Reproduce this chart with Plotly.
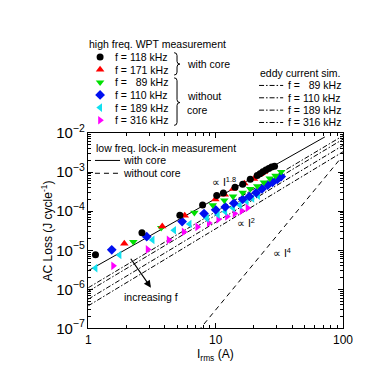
import plotly.graph_objects as go

W, H = 374, 375

# ---------------- data ----------------
# high freq. WPT measurement, with core
I_118 = [1.14, 2.64, 5.24, 7.9, 10.2, 11.5, 14.2, 16.3, 18.7, 21.2, 22.3, 23.5, 24.8, 26.1, 27.5, 29.0]
L_118 = [7.7e-6, 2.8e-5, 7.9e-5, 1.43e-4, 2.5e-4, 2.9e-4, 4.1e-4, 4.9e-4, 6.5e-4, 8.1e-4, 9.0e-4,
         1.01e-3, 1.13e-3, 1.23e-3, 1.34e-3, 1.41e-3]
I_171 = [1.92, 3.81, 5.72, 9.95, 11.8, 13.7, 16.8, 20.0, 22.4, 23.9]
L_171 = [1.48e-5, 4.1e-5, 7.7e-5, 2.0e-4, 2.64e-4, 3.7e-4, 5.1e-4, 6.7e-4, 8.9e-4, 1.01e-3]
# high freq. WPT measurement, without core
I_89 = [2.26, 3.74, 6.81, 9.49, 11.7, 13.7, 16.3, 18.7, 21.2, 23.9, 26.6, 29.5, 32.7]
L_89 = [1.64e-5, 3.74e-5, 9.1e-5, 1.43e-4, 1.89e-4, 2.37e-4, 2.96e-4, 3.7e-4, 4.37e-4, 5.47e-4,
        6.84e-4, 8.09e-4, 1.01e-3]
I_110 = [1.53, 2.88, 5.46, 8.11, 10.0, 11.9, 13.9, 16.3, 18.4, 20.8, 23.1, 25.6, 28.0, 30.5, 32.7]
L_110 = [1.03e-5, 2.22e-5, 5.4e-5, 8.65e-5, 1.08e-4, 1.28e-4, 1.6e-4, 2.0e-4, 2.37e-4, 2.96e-4,
         3.7e-4, 4.62e-4, 5.47e-4, 6.47e-4, 7.64e-4]
I_189 = [1.14, 1.76, 3.2, 4.72, 6.24, 8.55, 10.4, 11.9, 13.7, 15.5, 17.5, 19.4, 21.5]
L_189 = [3.5e-6, 7.6e-6, 1.84e-5, 3.24e-5, 4.68e-5, 6.54e-5, 8.18e-5, 9.67e-5, 1.21e-4, 1.43e-4,
         1.79e-4, 2.11e-4, 2.5e-4]
I_316 = [1.57, 2.93, 4.28, 5.62, 7.18, 8.85, 10.5, 12.3, 14.1, 16.0, 17.8]
L_316 = [4.0e-6, 1.05e-5, 1.84e-5, 2.95e-5, 3.95e-5, 4.95e-5, 6.18e-5, 7.31e-5, 8.65e-5, 1.02e-4, 1.21e-4]

# low freq. lock-in measurement
I_lock_core = [1.0, 72.0]
L_lock_core = [3.0e-6, 7.9e-3]
I_lock_nocore = [7.3, 96.0]
L_lock_nocore = [8.6e-8, 2.25e-3]

# eddy current simulation
I_sim = [1.0, 100.0]
L_sim_89 = [1.1e-6, 8.5e-3]
L_sim_110 = [8.9e-7, 6.9e-3]
L_sim_189 = [5.6e-7, 4.8e-3]
L_sim_316 = [3.8e-7, 3.3e-3]

# ---------------- styling ----------------
FONT = "Arial, Liberation Sans, sans-serif"
GREEN = "#00E000"
CYAN = "#10E0F0"
BLUE = "#0010F0"
RED = "#FF0000"
MAG = "#FF00FF"
DASHDOT = "5px,2px,1.5px,2px"
DASH = "5px,4px"
FS = 10.5

# plot frame in pixels
PX0, PX1, PY0, PY1 = 80, 344, 120, 326

fig = go.Figure()

def sc(x, y, sym, color, size):
    fig.add_trace(go.Scatter(x=x, y=y, mode="markers", xaxis="x", yaxis="y",
                             marker=dict(symbol=sym, color=color, size=size, line=dict(width=0))))

def ln(x, y, dash, width=1):
    fig.add_trace(go.Scatter(x=x, y=y, mode="lines", xaxis="x", yaxis="y",
                             line=dict(color="black", width=width, dash=dash)))

ln(I_sim, L_sim_89, DASHDOT)
ln(I_sim, L_sim_110, DASHDOT)
ln(I_sim, L_sim_189, DASHDOT)
ln(I_sim, L_sim_316, DASHDOT)
ln(I_lock_core, L_lock_core, "solid")
ln(I_lock_nocore, L_lock_nocore, DASH)

sc(I_316, L_316, "triangle-right", MAG, 7.5)
sc(I_189, L_189, "triangle-left", CYAN, 7.5)
sc(I_110, L_110, "diamond", BLUE, 7.5)
sc(I_89, L_89, "triangle-down", GREEN, 7.5)
sc(I_171, L_171, "triangle-up", RED, 7.5)
sc(I_118, L_118, "circle", "black", 7)

# ---------------- legend & annotations (pixel overlay axes) ----------------
ann = []
shapes = []

def txt(x, y, s, size=FS, xanchor="left", **kw):
    ann.append(dict(x=x, y=y, xref="x2", yref="y2", text=s, showarrow=False,
                    xanchor=xanchor, yanchor="middle", font=dict(family=FONT, size=size, color="black"), **kw))

# high freq legend
txt(79, 26, "high freq. WPT measurement")
rows = [40, 53.3, 66.7, 80, 93.3, 106.7]
leg = [("circle", "black", 7, "f = 118 kHz"),
       ("triangle-up", RED, 7.5, "f = 171 kHz"),
       ("triangle-down", GREEN, 7.5, "f = \u00a0\u00a089 kHz"),
       ("diamond", BLUE, 7.5, "f = 110 kHz"),
       ("triangle-left", CYAN, 7.5, "f = 189 kHz"),
       ("triangle-right", MAG, 7.5, "f = 316 kHz")]
for (sym, col, sz, label), yy in zip(leg, rows):
    fig.add_trace(go.Scatter(x=[92.3], y=[yy], mode="markers", xaxis="x2", yaxis="y2", cliponaxis=False,
                             marker=dict(symbol=sym, color=col, size=sz, line=dict(width=0))))
    txt(105.5, yy, label)

def brace(x0, y0, y1, ym, w):
    h = w / 2
    r = 3
    return (f"M {x0},{y0} Q {x0+h},{y0} {x0+h},{y0+r} L {x0+h},{ym-r} Q {x0+h},{ym} {x0+w},{ym} "
            f"Q {x0+h},{ym} {x0+h},{ym+r} L {x0+h},{y1-r} Q {x0+h},{y1} {x0},{y1}")

shapes.append(dict(type="path", path=brace(169, 35.5, 59, 47.5, 6), xref="x2", yref="y2",
                   line=dict(color="black", width=1)))
shapes.append(dict(type="path", path=brace(169, 62, 112, 88, 6), xref="x2", yref="y2",
                   line=dict(color="black", width=1)))
txt(180, 47.5, "with core")
txt(180, 81.5, "without")
txt(180, 95.5, "core")

# eddy current sim legend
txt(256, 57, "eddy current sim.")
erows = [70, 83, 96, 109]
elab = ["f = \u00a0\u00a089 kHz", "f = 110 kHz", "f = 189 kHz", "f = 316 kHz"]
for yy, lab in zip(erows, elab):
    shapes.append(dict(type="line", x0=257, x1=282, y0=yy, y1=yy, xref="x2", yref="y2",
                       line=dict(color="black", width=1, dash=DASHDOT)))
    txt(284.5, yy, lab)

# low freq legend inside plot
txt(86, 135.5, "low freq. lock-in measurement")
shapes.append(dict(type="line", x0=87, x1=113, y0=149, y1=149, xref="x2", yref="y2",
                   line=dict(color="black", width=1)))
txt(114, 149, "with core")
shapes.append(dict(type="line", x0=87, x1=113, y0=162.5, y1=162.5, xref="x2", yref="y2",
                   line=dict(color="black", width=1, dash=DASH)))
txt(114, 162.5, "without core")

# slope labels
txt(221, 171, "\u221d I<sup>1.8</sup>", xanchor="center")
txt(243, 214, "\u221d I<sup>2</sup>", xanchor="center")
txt(281, 246, "\u221d I<sup>4</sup>", xanchor="center")
txt(145, 293, "increasing f", xanchor="center")
ann.append(dict(x=145, y=283, ax=123, ay=251, xref="x2", yref="y2", axref="x2", ayref="y2",
                text="", showarrow=True, arrowhead=2, arrowsize=1.2, arrowwidth=1.2, arrowcolor="black"))

# axis titles
ann.append(dict(x=37, y=(PY0 + PY1) / 2, xref="x2", yref="y2", text="AC Loss (J cycle<sup>-1</sup>)",
                showarrow=False, textangle=-90, xanchor="center", yanchor="middle",
                font=dict(family=FONT, size=12, color="black")))
ann.append(dict(x=(PX0 + PX1) / 2, y=354, xref="x2", yref="y2", text="I<sub>rms</sub> (A)",
                showarrow=False, xanchor="center", yanchor="middle",
                font=dict(family=FONT, size=12, color="black")))

axis_common = dict(showline=True, linecolor="black", linewidth=1, mirror="ticks", ticks="inside",
                   ticklen=5, tickcolor="black", tickwidth=1, showgrid=False, zeroline=False,
                   tickfont=dict(family=FONT, size=12, color="black"),
                   minor=dict(ticks="inside", ticklen=3, tickcolor="black", tickwidth=1, dtick="D1",
                              showgrid=False))

fig.update_layout(
    width=W, height=H, autosize=False,
    margin=dict(l=0, r=0, t=0, b=0, pad=0),
    paper_bgcolor="white", plot_bgcolor="rgba(0,0,0,0)",
    showlegend=False,
    font=dict(family=FONT, size=FS, color="black"),
    xaxis=dict(type="log", range=[0, 2], domain=[PX0 / W, PX1 / W], anchor="y",
               dtick=1, exponentformat="none", **axis_common),
    yaxis=dict(type="log", range=[-7, -2], domain=[(H - PY1) / H, (H - PY0) / H], anchor="x",
               dtick=1, exponentformat="power", showexponent="all", **axis_common),
    xaxis2=dict(range=[0, W], domain=[0, 1], anchor="y2", visible=False, fixedrange=True),
    yaxis2=dict(range=[H, 0], domain=[0, 1], anchor="x2", visible=False, fixedrange=True),
    annotations=ann,
    shapes=shapes,
)

fig.write_html("out.html")
